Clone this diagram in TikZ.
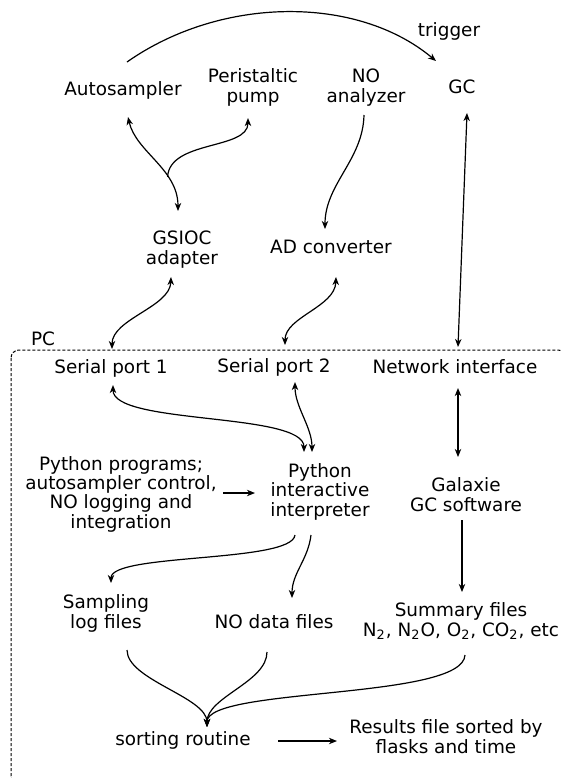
\documentclass[tikz,border=0pt]{standalone}
\usepackage{fontspec}
\setmainfont{DejaVu Sans}
\usetikzlibrary{arrows.meta}

\begin{document}
\begin{tikzpicture}[
  x=0.5pt, y=-0.5pt,
  font=\fontsize{9.2}{9.6}\selectfont,
  >={Stealth[length=4pt, width=3.2pt, inset=1.2pt]},
  lbl/.style={align=center, inner sep=0pt, anchor=base},
  link/.style={line width=0.6pt},
  pcbox/.style={line width=0.5pt, dash pattern=on 1.6pt off 0.9pt, rounded corners=4pt},
]
  \useasboundingbox (0,0) rectangle (561,778);

  % Instruments (base = last line)
  \node[lbl] (auto) at (123,95)  {Autosampler};
  \node[lbl] (pump) at (253,102) {Peristaltic\\pump};
  \node[lbl] (noan) at (366,102) {NO\\analyzer};
  \node[lbl] (gc)   at (462,93)  {GC};
  \node[lbl] (trig) at (449,36)  {trigger};

  % Interfaces
  \node[lbl] (gsioc) at (182,264) {GSIOC\\adapter};
  \node[lbl] (adc)   at (331,253) {AD converter};

  % PC
  \draw[pcbox] (11,350) rectangle (566,784);
  \node[lbl] (pc)  at (43,345)  {PC};
  \node[lbl] (sp1) at (111,373) {Serial port 1};
  \node[lbl] (sp2) at (274,372) {Serial port 2};
  \node[lbl] (net) at (455,373) {Network interface};
  \node[lbl] (pyprog) at (121,528) {Python programs;\\autosampler control,\\NO logging and\\integration};
  \node[lbl] (pyint)  at (320,516) {Python\\interactive\\interpreter};
  \node[lbl] (gal)    at (466,511) {Galaxie\\GC software};
  \node[lbl] (samp)   at (106,628) {Sampling\\log files};
  \node[lbl] (nodata) at (274,628) {NO data files};
  \node[lbl] (summ)   at (461,636) {Summary files\\N\textsubscript{2}, N\textsubscript{2}O, O\textsubscript{2}, CO\textsubscript{2}, etc};
  \node[lbl] (sort)   at (183,745) {sorting routine};
  \node[lbl] (res)    at (446,753) {Results file sorted by\\flasks and time};

  % Instrument links
  \draw[link,->] ([shift={(4,-33)}]auto.base) .. controls +(94,-66) and +(-79,-66) .. ([shift={(-26,-32)}]gc.base);
  \draw[link,<->] ([shift={(5,22)}]auto.base) .. controls +(8,35) and +(0,-42) .. ([shift={(-4,-53)}]gsioc.base) coordinate[pos=0.68] (fork);
  \draw[link,->] (fork) .. controls +(2,-37) and +(0,32) .. ([shift={(-5,16)}]pump.base);
  \draw[link,->] ([shift={(-2,13)}]noan.base) .. controls +(-1,45) and +(0,-45) .. ([shift={(-6,-24)}]adc.base);
  \draw[link,<->] ([shift={(5,20)}]gc.base) -- ([shift={(3,-26)}]net.base);
  \draw[link,<->] ([shift={(-11,13)}]gsioc.base) .. controls +(-1,30) and +(0,-30) .. ([shift={(1,-24)}]sp1.base);
  \draw[link,<->] ([shift={(5,24)}]adc.base) .. controls +(-1,30) and +(0,-28) .. ([shift={(11,-27)}]sp2.base);

  % Inside the PC
  \draw[link,<->] ([shift={(2,12)}]sp1.base) .. controls +(0,40) and +(0,-40) .. ([shift={(-16,-64)}]pyint.base);
  \draw[link,<->] ([shift={(21,10)}]sp2.base) .. controls +(0,25) and +(0,-25) .. ([shift={(-8,-64)}]pyint.base);
  \draw[link,<->] ([shift={(3,15)}]net.base) -- ([shift={(-8,-54)}]gal.base);
  \draw[link,->] ([shift={(102,-35)}]pyprog.base) -- ([shift={(-65,-23)}]pyint.base);
  \draw[link,->] ([shift={(-25,19)}]pyint.base) .. controls +(-3,28) and +(0,-30) .. ([shift={(5,-45)}]samp.base);
  \draw[link,->] ([shift={(-9,19)}]pyint.base) .. controls +(-3,25) and +(0,-25) .. ([shift={(18,-30)}]nodata.base);
  \draw[link,->] ([shift={(-4,9)}]gal.base) -- ([shift={(1,-44)}]summ.base);

  % Sorting
  \draw[link,->] ([shift={(21,22)}]samp.base) .. controls +(0,30) and +(0,-30) .. ([shift={(24,-18)}]sort.base);
  \draw[link,->] ([shift={(-7,24)}]nodata.base) .. controls +(0,30) and +(0,-30) .. ([shift={(24,-18)}]sort.base);
  \draw[link,->] ([shift={(4,19)}]summ.base) .. controls +(-2,45) and +(0,-40) .. ([shift={(24,-18)}]sort.base);
  \draw[link,->] ([shift={(95,-4)}]sort.base) -- ([shift={(-109,-12)}]res.base);
\end{tikzpicture}
\end{document}
